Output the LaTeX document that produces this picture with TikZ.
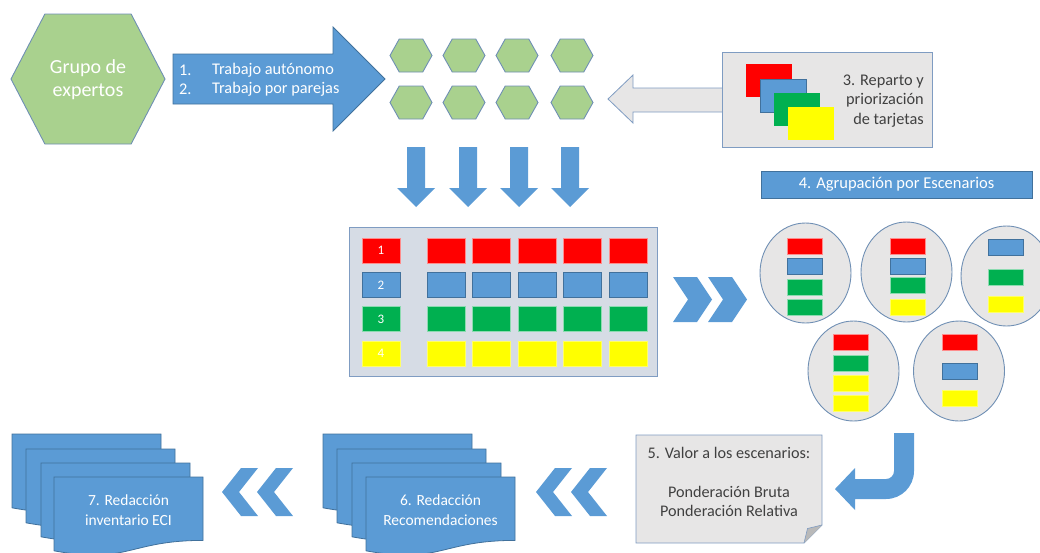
\documentclass[tikz,border=0pt]{standalone}
\usepackage{fontspec}
\setmainfont{Carlito}
\usetikzlibrary{shapes.geometric}

\definecolor{ofblue}{HTML}{5B9BD5}
\definecolor{ofline}{HTML}{41719C}
\definecolor{hexgreen}{HTML}{A9D18E}
\definecolor{hexline}{HTML}{6F8FB4}
\definecolor{boxgray}{HTML}{E7E6E6}
\definecolor{boxline}{HTML}{7F9CC2}
\definecolor{panel}{HTML}{D6DCE5}
\definecolor{txtgray}{HTML}{404040}
\definecolor{cred}{HTML}{FF0000}
\definecolor{cgreen}{HTML}{00B050}
\definecolor{cyellow}{HTML}{FFFF00}

\tikzset{
  blockblue/.style={fill=ofblue, draw=ofline, line width=0.8pt},
  graybox/.style={fill=boxgray, draw=boxline, line width=0.8pt},
  hexstyle/.style={fill=hexgreen, draw=hexline, line width=0.9pt},
  escenario/.style={ellipse, fill=boxgray, draw=hexline, line width=0.9pt,
    minimum width=91pt, minimum height=100pt, inner sep=0pt},
  card/.style={rectangle, inner sep=0pt, minimum width=38pt, minimum height=25pt,
    line width=0.6pt, text=white, font=\fontsize{13}{15}\selectfont},
  rcard/.style={card, fill=cred, draw=cred!45!white},
  bcard/.style={card, fill=ofblue, draw=ofline},
  gcard/.style={card, fill=cgreen, draw=cgreen!45!white},
  ycard/.style={card, fill=cyellow, draw=cyellow!60!white},
  mini/.style={minimum width=35pt, minimum height=16pt},
  big/.style={minimum width=46pt, minimum height=33pt},
  wtext/.style={text=white, align=center, inner sep=0pt, font=\fontsize{15.5}{20}\selectfont},
  gtext/.style={text=txtgray, align=center, inner sep=0pt, font=\fontsize{16.2}{19.5}\selectfont},
}

% hexagon: center x, center y, width, height
\newcommand{\hexa}[4]{%
  \draw[hexstyle] ({#1-#3/2},#2) -- ({#1-#3/2+0.22*#3},{#2-#4/2})
    -- ({#1+#3/2-0.22*#3},{#2-#4/2}) -- ({#1+#3/2},#2)
    -- ({#1+#3/2-0.22*#3},{#2+#4/2}) -- ({#1-#3/2+0.22*#3},{#2+#4/2}) -- cycle;}
% document page: top left x, y
\newcommand{\docpage}[2]{%
  \draw[blockblue] (#1,#2) -- ({#1+149},#2) -- ({#1+149},{#2+63.4})
    .. controls ({#1+74.5},{#2+63.4}) and ({#1+74.5},{#2+87.5}) .. (#1,{#2+73.8}) -- cycle;}
% chevron pointing right / left
\newcommand{\chevr}[1]{%
  \fill[ofblue] (#1,277) -- ({#1+24},277) -- ({#1+39},299.5) -- ({#1+24},322)
    -- (#1,322) -- ({#1+15},299.5) -- cycle;}
\newcommand{\chevl}[1]{%
  \fill[ofblue] (#1,492) -- ({#1+19},468) -- ({#1+36},468) -- ({#1+17},492)
    -- ({#1+36},516) -- ({#1+19},516) -- cycle;}

\begin{document}
\begin{tikzpicture}[x=1pt, y=-1pt]
    \useasboundingbox (0,0) rectangle (1040,552);

    % Grupo de expertos
    \hexa{88}{79}{154}{130}
    \node[wtext, font=\fontsize{20}{23}\selectfont] (grupo) at (88,80) {Grupo de\\expertos};

    % big arrow 1-2
    \draw[blockblue] (173,54) -- (333,54) -- (333,27) -- (385,79) -- (333,131)
        -- (333,104) -- (173,104) -- cycle;
    \node[wtext, anchor=west, font=\fontsize{16.3}{19}\selectfont] (n1) at (179,70) {1.};
    \node[wtext, anchor=west, font=\fontsize{16.3}{19}\selectfont] (t1) at (212,70) {Trabajo autónomo};
    \node[wtext, anchor=west, font=\fontsize{16.3}{19}\selectfont] (n2) at (179,89) {2.};
    \node[wtext, anchor=west, font=\fontsize{16.3}{19}\selectfont] (t2) at (212,89) {Trabajo por parejas};

    % small hexagons
    \foreach \hx in {411,464,517,572} {
      \foreach \hy in {55.5,102.5} {
        \hexa{\hx}{\hy}{42}{33}
      }
    }

    % 3. reparto
    \draw[graybox] (722,88) -- (633,88) -- (633,75) -- (608,99) -- (633,123)
        -- (633,112) -- (722,112);
    \node[graybox, rectangle, minimum width=210pt, minimum height=95pt, inner sep=0pt]
        (reparto) at (827,99.5) {};
    \node[rcard, big, draw=none] (t3a) at (769,80.5) {};
    \node[bcard, big] (t3b) at (783,95.5) {};
    \node[gcard, big, draw=none] (t3c) at (797,109.5) {};
    \node[ycard, big, draw=none] (t3d) at (811,123.5) {};
    \node[gtext, align=right, anchor=east, font=\fontsize{16.3}{19.5}\selectfont]
        (reptxt) at (924,101) {3. Reparto y\\priorización\\de tarjetas};

    % down arrows
    \foreach \ax in {416,468,519,570} {
      \fill[ofblue] ({\ax-9},147) -- ({\ax+9},147) -- ({\ax+9},188) -- ({\ax+19},188)
          -- (\ax,207) -- ({\ax-19},188) -- ({\ax-9},188) -- cycle;
    }

    % table of cards
    \node[rectangle, fill=panel, draw=boxline, line width=0.8pt, minimum width=308pt,
        minimum height=149pt, inner sep=0pt] (tabla) at (503,301.5) {};
    \foreach \s/\yy [count=\r] in {rcard/250.5, bcard/284.8, gcard/319.1, ycard/353.4} {
      \node[\s] (lab\r) at (381,\yy) {\r};
      \foreach \k in {1,...,5} {
        \node[\s] (cell\r\k) at ({446+45.5*(\k-1)},\yy) {};
      }
    }

    % chevrons
    \chevr{673}
    \chevr{708}

    % 4. agrupacion
    \node[blockblue, rectangle, minimum width=271pt, minimum height=27pt, inner sep=0pt,
        text=white, font=\fontsize{16.5}{19}\selectfont] (agrup) at (896.5,184.5)
        {4. Agrupación por Escenarios};

    % escenarios
    \node[escenario] (esc1) at (805.5,273) {};
    \node[escenario] (esc2) at (906.5,272) {};
    \node[escenario] (esc3) at (1006.5,276) {};
    \node[escenario] (esc4) at (853.5,371) {};
    \node[escenario] (esc5) at (959,371) {};
    \foreach \s/\yy [count=\i] in {rcard/246, bcard/266, gcard/287, gcard/307} {
      \node[\s, mini] (e1\i) at (804.5,\yy) {};
    }
    \foreach \s/\yy [count=\i] in {rcard/246, bcard/266, gcard/285, ycard/307} {
      \node[\s, mini] (e2\i) at (907.5,\yy) {};
    }
    \foreach \s/\yy [count=\i] in {bcard/247, gcard/277, ycard/304.5} {
      \node[\s, mini] (e3\i) at (1005.5,\yy) {};
    }
    \foreach \s/\yy [count=\i] in {rcard/342, gcard/363, ycard/383, ycard/403.5} {
      \node[\s, mini] (e4\i) at (850.5,\yy) {};
    }
    \foreach \s/\yy [count=\i] in {rcard/342, bcard/371, ycard/398} {
      \node[\s, mini] (e5\i) at (960,\yy) {};
    }

    % bent arrow
    \fill[ofblue] (894,433) -- (914,433) -- (914,471)
        .. controls (914,486.5) and (901.5,499) .. (886,499)
        -- (855,499) -- (855,510) -- (835,489) -- (855,468) -- (855,479) -- (886,479)
        .. controls (890.4,479) and (894,475.4) .. (894,471) -- cycle;

    % 5. valor
    \draw[graybox] (636,435) -- (822,435) -- (822,525) -- (804,543) -- (636,543) -- cycle;
    \filldraw[fill=gray!55, draw=boxline, line width=0.6pt] (804,543) -- (807.5,528.5) -- (822,525);
    \node[gtext] (valor) at (729,453) {5. Valor a los escenarios:};
    \node[gtext] (ponder) at (729,501.5) {Ponderación Bruta\\Ponderación Relativa};

    % chevrons back
    \chevl{536}
    \chevl{571}
    \chevl{222}
    \chevl{257}

    % 6. recomendaciones
    \docpage{323}{434}
    \docpage{337}{449}
    \docpage{352}{463}
    \docpage{366}{477}
    \node[wtext] (recom) at (440.5,510) {6. Redacción\\Recomendaciones};

    % 7. inventario
    \docpage{12}{434}
    \docpage{26}{449}
    \docpage{41}{463}
    \docpage{54}{477}
    \node[wtext] (inven) at (128.5,510) {7. Redacción\\inventario ECI};
\end{tikzpicture}
\end{document}
